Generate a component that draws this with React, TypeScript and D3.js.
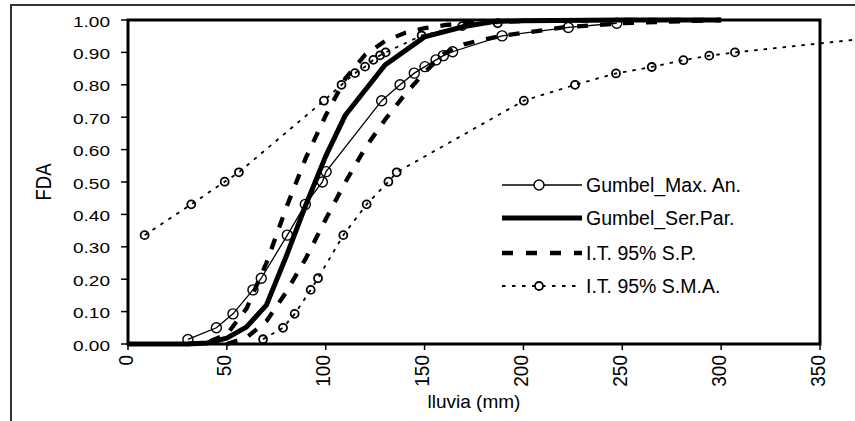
import React from "react";
import * as d3 from "d3";

// ---- Data ----
const xTicks = [0, 50, 100, 150, 200, 250, 300, 350];
const yTicks = [0, 0.1, 0.2, 0.3, 0.4, 0.5, 0.6, 0.7, 0.8, 0.9, 1.0];

// Gumbel_Max. An. (empirical points)
const maxAnX = [30.3, 44.7, 53.1, 63.2, 67.4, 80.6, 89.7, 98.3, 100.2, 128.3, 137.6, 144.8, 150.2, 155.8, 159.5, 164.2, 189.2, 222.7, 247.2];
const maxAnF = [0.014, 0.05, 0.093, 0.167, 0.203, 0.336, 0.431, 0.5, 0.532, 0.751, 0.8, 0.836, 0.856, 0.877, 0.89, 0.902, 0.951, 0.977, 0.99];

// Gumbel_Ser.Par.
const serParX = [0, 30, 40, 50, 60, 70, 80, 90, 100, 110, 130, 150, 170, 185, 200, 250, 300];
const serParF = [0, 0, 0.003, 0.018, 0.053, 0.12, 0.27, 0.43, 0.58, 0.707, 0.861, 0.948, 0.98, 0.995, 0.998, 1.0, 1.0];

// I.T. 95% S.P. (upper and lower bounds)
const spUpX = [30, 40, 50, 60, 70, 80, 90, 100, 110, 120, 130, 140, 150, 160, 170, 180, 200, 250, 300];
const spUpF = [0, 0.005, 0.03, 0.11, 0.25, 0.42, 0.575, 0.705, 0.82, 0.893, 0.935, 0.96, 0.975, 0.984, 0.99, 0.994, 0.997, 1.0, 1.0];
const spLoX = [50, 60, 70, 80, 90, 100, 110, 120, 130, 140, 150, 160, 170, 180, 190, 220, 250, 300];
const spLoF = [0, 0.02, 0.07, 0.16, 0.265, 0.385, 0.5, 0.605, 0.692, 0.77, 0.838, 0.897, 0.925, 0.94, 0.952, 0.977, 0.99, 1.0];

// I.T. 95% S.M.A. (upper and lower bounds)
const smaUpX = [8.4, 32.0, 48.9, 56.1, 99.1, 108.0, 114.8, 119.9, 124.1, 127.5, 130.3, 148.5, 169.0, 187.0];
const smaUpF = [0.336, 0.431, 0.501, 0.53, 0.751, 0.8, 0.836, 0.856, 0.877, 0.891, 0.9, 0.952, 0.981, 0.99];
const smaLoX = [68.3, 78.4, 84.3, 92.4, 96.1, 108.9, 120.7, 131.7, 135.9, 200.2, 226.1, 246.8, 264.9, 280.9, 294.0, 307.0, 386.0];
const smaLoF = [0.0146, 0.05, 0.093, 0.167, 0.203, 0.336, 0.431, 0.501, 0.53, 0.751, 0.8, 0.835, 0.855, 0.876, 0.89, 0.9, 0.951];

const legendLabels = ["Gumbel_Max. An.", "Gumbel_Ser.Par.", "I.T. 95% S.P.", "I.T. 95% S.M.A."];
const xTitle = "lluvia (mm)";
const yTitle = "FDA";

const W = 855;
const H = 421;

export default function App() {
  const x = d3.scaleLinear().domain([0, 350]).range([128, 820]);
  const y = d3.scaleLinear().domain([0, 1]).range([344, 20]);
  const line = d3
    .line<[number, number]>()
    .x((d) => x(d[0]))
    .y((d) => y(d[1]));
  const zip = (xs: number[], fs: number[]) => xs.map((v, i) => [v, fs[i]] as [number, number]);

  const maxAn = zip(maxAnX, maxAnF);
  const serPar = zip(serParX, serParF);
  const spUp = zip(spUpX, spUpF);
  const spLo = zip(spLoX, spLoF);
  const smaUp = zip(smaUpX, smaUpF);
  const smaLo = zip(smaLoX, smaLoF);

  const font = "'Liberation Sans', Arial, sans-serif";
  const legY = [185, 218, 253, 286];
  const legX0 = 502;
  const legX1 = 582;

  return (
    <svg
      width={W}
      height={H}
      style={{ position: "absolute", left: 0, top: 0, background: "#fff" }}
      fontFamily={font}
    >
      <rect x={0} y={0} width={W} height={H} fill="#fff" />
      {/* outer chart frame */}
      <rect x={11} y={5} width={900} height={500} fill="none" stroke="#333" strokeWidth={2} />

      {/* plot border */}
      <rect x={x(0)} y={y(1)} width={x(350) - x(0)} height={y(0) - y(1)} fill="none" stroke="#000" strokeWidth={3} />

      {/* y ticks and labels */}
      {yTicks.map((t) => (
        <g key={"y" + t}>
          <line x1={x(0) - 7} x2={x(0)} y1={y(t)} y2={y(t)} stroke="#000" strokeWidth={1.5} />
          <text
            transform={`translate(110, ${y(t) + 6.5}) scale(1.27,1)`}
            textAnchor="end"
            fontSize={15}
            fill="#000"
          >
            {t.toFixed(2)}
          </text>
        </g>
      ))}

      {/* x ticks and labels */}
      {xTicks.map((t) => (
        <g key={"x" + t}>
          <line x1={x(t)} x2={x(t)} y1={y(0)} y2={y(0) + 6} stroke="#000" strokeWidth={1.5} />
          <text
            transform={`translate(${x(t) + 4.5}, 355) scale(1.1,1) rotate(-90)`}
            textAnchor="end"
            fontSize={19}
            fill="#000"
          >
            {t}
          </text>
        </g>
      ))}

      {/* axis titles */}
      <text x={474} y={408} textAnchor="middle" fontSize={19} fill="#000">
        {xTitle}
      </text>
      <text transform={`translate(51, 182) scale(1.2,1) rotate(-90)`} textAnchor="middle" fontSize={18.5} fill="#000">
        {yTitle}
      </text>

      {/* I.T. 95% S.M.A. */}
      {[smaUp, smaLo].map((s, i) => (
        <g key={"sma" + i}>
          <path d={line(s) || ""} fill="none" stroke="#000" strokeWidth={1.8} strokeDasharray="3.5,6" />
          {s.map((d, j) => (
            <circle key={j} cx={x(d[0])} cy={y(d[1])} r={4} fill="none" stroke="#000" strokeWidth={1.8} />
          ))}
        </g>
      ))}

      {/* I.T. 95% S.P. */}
      {[spUp, spLo].map((s, i) => (
        <path key={"sp" + i} d={line(s) || ""} fill="none" stroke="#000" strokeWidth={4.3} strokeDasharray="11,12" />
      ))}

      {/* Gumbel_Ser.Par. */}
      <path d={line(serPar) || ""} fill="none" stroke="#000" strokeWidth={5} strokeLinejoin="round" />

      {/* Gumbel_Max. An. */}
      <path d={line(maxAn) || ""} fill="none" stroke="#000" strokeWidth={1.3} />
      {maxAn.map((d, j) => (
        <circle key={"m" + j} cx={x(d[0])} cy={y(d[1])} r={5} fill="none" stroke="#000" strokeWidth={1.4} />
      ))}

      {/* legend */}
      <g>
        <line x1={legX0} x2={legX1} y1={legY[0]} y2={legY[0]} stroke="#000" strokeWidth={1.5} />
        <circle cx={539} cy={legY[0]} r={5} fill="#fff" stroke="#000" strokeWidth={1.4} />
        <line x1={legX0} x2={legX1} y1={legY[1]} y2={legY[1]} stroke="#000" strokeWidth={5} />
        <line x1={legX0} x2={legX1} y1={legY[2]} y2={legY[2]} stroke="#000" strokeWidth={4.3} strokeDasharray="11,13" />
        <line x1={legX0} x2={legX1} y1={legY[3]} y2={legY[3]} stroke="#000" strokeWidth={1.8} strokeDasharray="3.5,6.5" />
        <circle cx={539} cy={legY[3]} r={4} fill="#fff" stroke="#000" strokeWidth={1.8} />
        {legendLabels.map((l, i) => (
          <text key={l} x={586} y={legY[i] + 7} fontSize={19.5} fill="#000">
            {l}
          </text>
        ))}
      </g>
    </svg>
  );
}
